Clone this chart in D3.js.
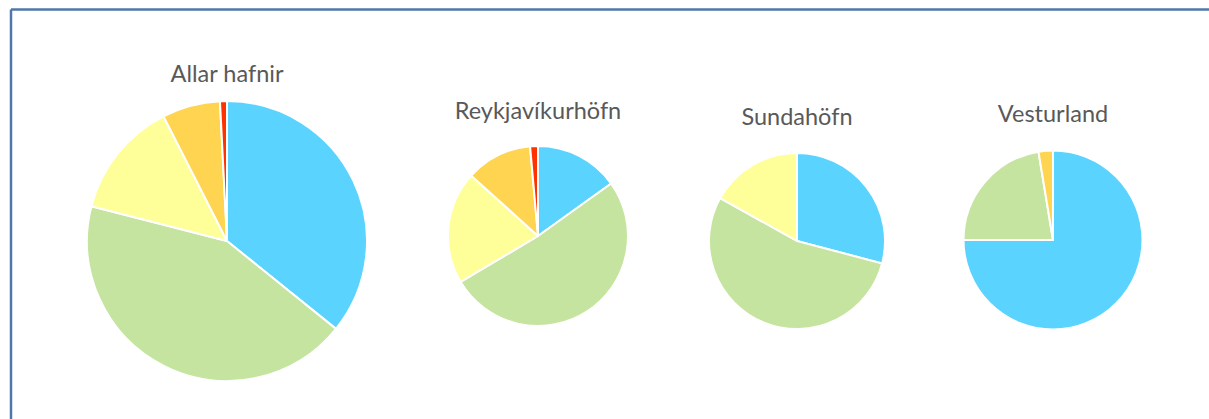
<!DOCTYPE html>
<html>
<head>
<meta charset="utf-8">
<script src="https://cdn.jsdelivr.net/npm/d3@7"></script>
<style>
  body { margin: 0; background: #fff; }
  svg { display: block; }
</style>
</head>
<body>
<svg id="chart" width="1209" height="419"></svg>
<script>
// slice order, clockwise from 12 o'clock
var categories = ["A", "B", "C", "D", "E"];
var titles = ["Allar hafnir", "Reykjavíkurhöfn", "Sundahöfn", "Vesturland"];

var allarHafnir = [35.8, 43.2, 13.5, 6.7, 0.8];
var reykjavikurhofn = [15.1, 51.4, 20.2, 11.9, 1.4];
var sundahofn = [29.1, 54.0, 16.9, 0, 0];
var vesturland = [75.0, 22.4, 0, 2.6, 0];

var colors = ["#5ad3ff", "#c5e4a0", "#ffff99", "#ffd451", "#ff3300"];

var series = [allarHafnir, reykjavikurhofn, sundahofn, vesturland];

var svg = d3.select("#chart");

// frame (only top and left edges visible)
svg.append("line")
  .attr("x1", 11).attr("y1", 9.5).attr("x2", 1209).attr("y2", 9.5)
  .style("stroke", "#4f77aa").style("stroke-width", 2.5);
svg.append("line")
  .attr("x1", 11).attr("y1", 9.5).attr("x2", 11).attr("y2", 419)
  .style("stroke", "#4f77aa").style("stroke-width", 2.5);

var layout = [
  { cx: 227, cy: 241, r: 140, ty: 82 },
  { cx: 538, cy: 236, r: 90, ty: 119 },
  { cx: 797, cy: 241, r: 88, ty: 125 },
  { cx: 1053, cy: 240, r: 89.5, ty: 122 }
];

var color = d3.scaleOrdinal().domain(categories).range(colors);

var pie = d3.pie()
  .sort(null)
  .value(function (d) { return d.value; });

series.forEach(function (vals, i) {
  var L = layout[i];
  var rows = categories.map(function (c, j) {
    return { cat: c, value: vals[j] };
  });

  var arc = d3.arc().innerRadius(0).outerRadius(L.r);

  var g = svg.append("g")
    .attr("transform", "translate(" + L.cx + "," + L.cy + ")");

  g.selectAll("path")
    .data(pie(rows).filter(function (d) { return d.data.value > 0; }))
    .enter()
    .append("path")
    .attr("d", arc)
    .style("fill", function (d) { return color(d.data.cat); })
    .style("stroke", "#fff")
    .style("stroke-width", 2)
    .style("stroke-linejoin", "round");

  svg.append("text")
    .attr("x", L.cx)
    .attr("y", L.ty)
    .attr("text-anchor", "middle")
    .style("font-family", "Lato, 'Open Sans', sans-serif")
    .style("font-size", "23.5px")
    .style("fill", "#595959")
    .text(titles[i]);
});
</script>
</body>
</html>
